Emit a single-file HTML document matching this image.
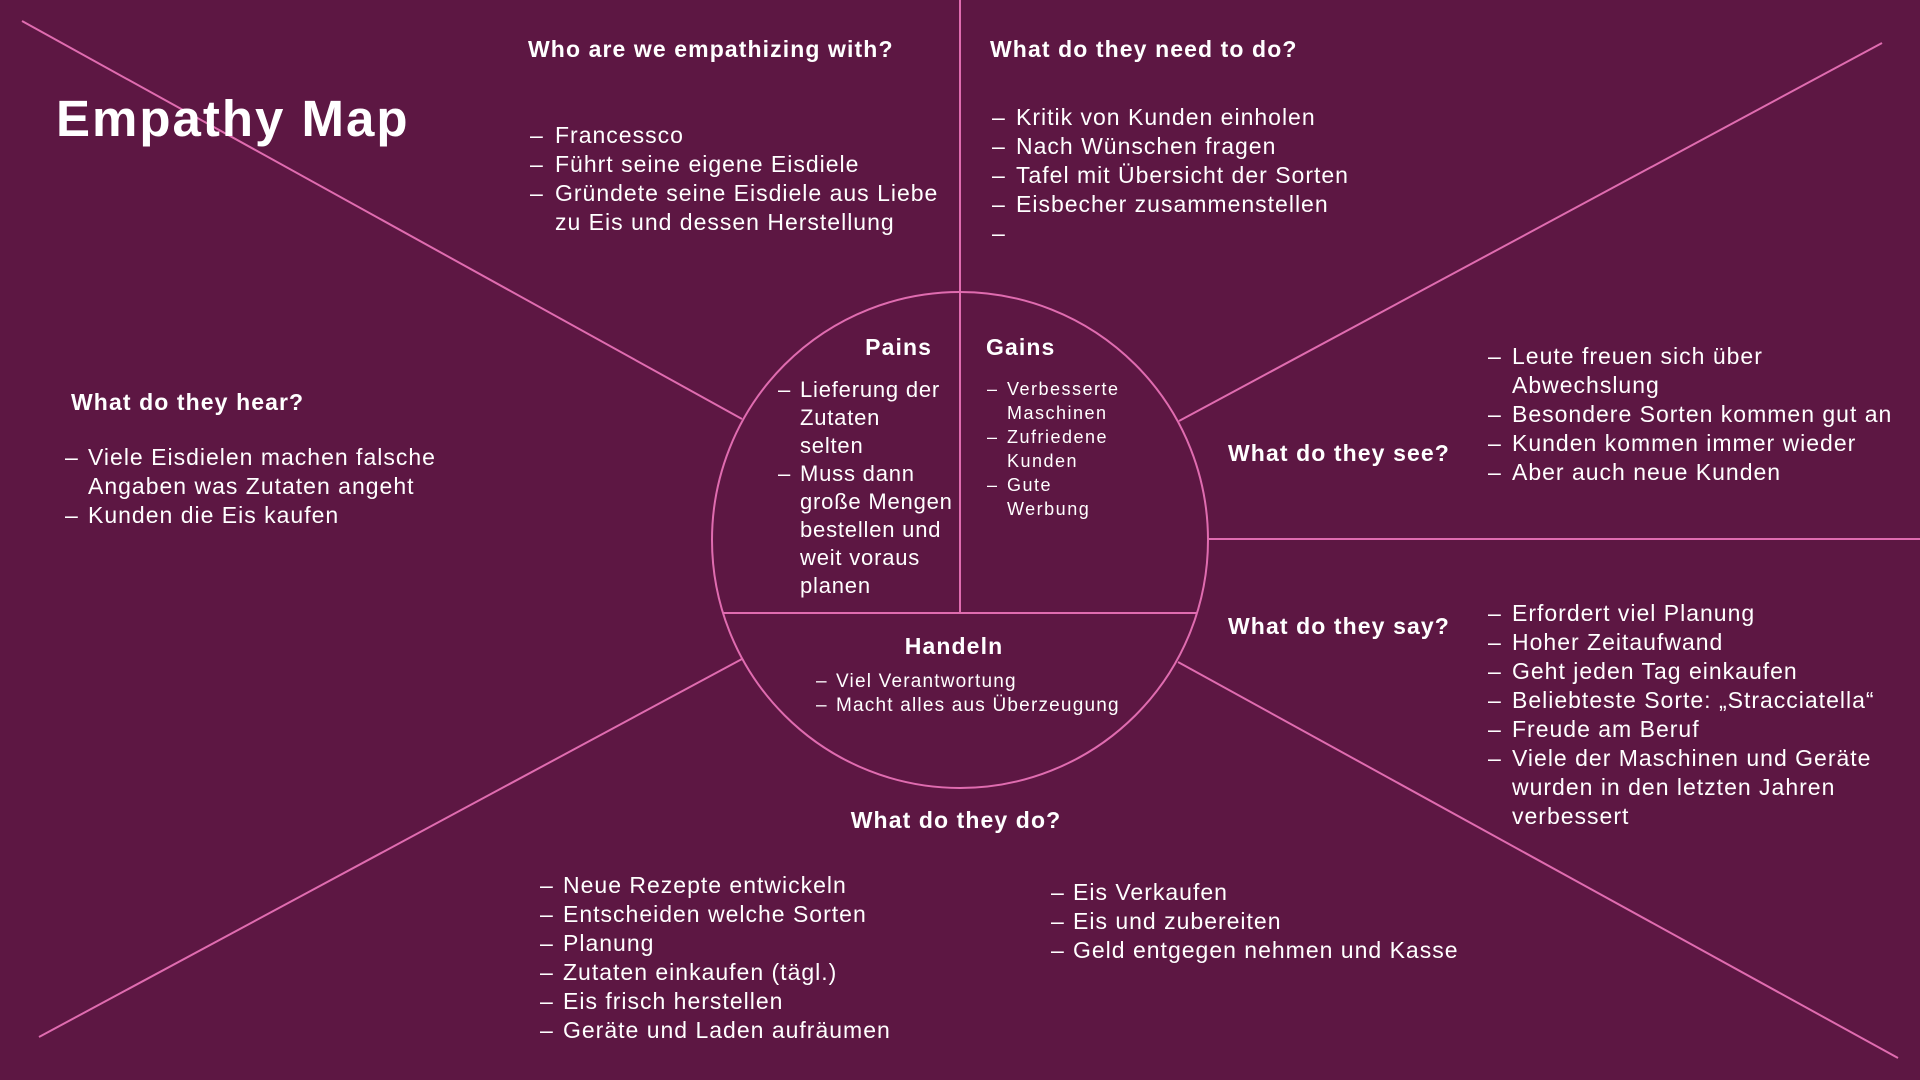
<!DOCTYPE html>
<html><head><meta charset="utf-8">
<style>
html,body{margin:0;padding:0}
body{width:1920px;height:1080px;background:#5d1743;position:relative;overflow:hidden;font-family:"Liberation Sans",sans-serif;color:#fff}
svg{position:absolute;left:0;top:0}
.h{position:absolute;font-weight:bold;font-size:23px;line-height:30px;white-space:nowrap;letter-spacing:1.1px}
.l{position:absolute;white-space:nowrap;letter-spacing:1px}
.l div{position:relative}
.l div span{position:absolute}
</style></head><body>
<svg width="1920" height="1080">
<g stroke="#e06cb0" stroke-width="2" fill="none">
<circle cx="960" cy="540" r="248"/>
<line x1="960" y1="0" x2="960" y2="613"/>
<line x1="723" y1="613" x2="1197" y2="613"/>
<line x1="22" y1="21" x2="742" y2="419"/>
<line x1="1882" y1="43" x2="1179" y2="421"/>
<line x1="1208" y1="539" x2="1920" y2="539"/>
<line x1="1178" y1="662" x2="1898" y2="1058"/>
<line x1="742" y1="659" x2="39" y2="1037"/>
</g></svg>

<div class="h" style="left:56px;top:88px;font-size:51px;line-height:62px;letter-spacing:2px">Empathy Map</div>

<div class="h" style="left:528px;top:34px">Who are we empathizing with?</div>
<div class="l" style="left:555px;top:121px;font-size:23px;line-height:29px">
<div><span style="left:-25px">–</span>Francessco</div>
<div><span style="left:-25px">–</span>Führt seine eigene Eisdiele</div>
<div><span style="left:-25px">–</span>Gründete seine Eisdiele aus Liebe</div>
<div>zu Eis und dessen Herstellung</div>
</div>

<div class="h" style="left:990px;top:34px">What do they need to do?</div>
<div class="l" style="left:1016px;top:103px;font-size:23px;line-height:29px">
<div><span style="left:-24px">–</span>Kritik von Kunden einholen</div>
<div><span style="left:-24px">–</span>Nach Wünschen fragen</div>
<div><span style="left:-24px">–</span>Tafel mit Übersicht der Sorten</div>
<div><span style="left:-24px">–</span>Eisbecher zusammenstellen</div>
<div><span style="left:-24px">–</span>&nbsp;</div>
</div>

<div class="h" style="left:71px;top:387px">What do they hear?</div>
<div class="l" style="left:88px;top:443px;font-size:23px;line-height:29px">
<div><span style="left:-23px">–</span>Viele Eisdielen machen falsche</div>
<div>Angaben was Zutaten angeht</div>
<div><span style="left:-23px">–</span>Kunden die Eis kaufen</div>
</div>

<div class="h" style="left:1228px;top:438px">What do they see?</div>
<div class="l" style="left:1512px;top:342px;font-size:23px;line-height:29px">
<div><span style="left:-24px">–</span>Leute freuen sich über</div>
<div>Abwechslung</div>
<div><span style="left:-24px">–</span>Besondere Sorten kommen gut an</div>
<div><span style="left:-24px">–</span>Kunden kommen immer wieder</div>
<div><span style="left:-24px">–</span>Aber auch neue Kunden</div>
</div>

<div class="h" style="left:1228px;top:611px">What do they say?</div>
<div class="l" style="left:1512px;top:599px;font-size:23px;line-height:29px">
<div><span style="left:-24px">–</span>Erfordert viel Planung</div>
<div><span style="left:-24px">–</span>Hoher Zeitaufwand</div>
<div><span style="left:-24px">–</span>Geht jeden Tag einkaufen</div>
<div><span style="left:-24px">–</span>Beliebteste Sorte: „Stracciatella“</div>
<div><span style="left:-24px">–</span>Freude am Beruf</div>
<div><span style="left:-24px">–</span>Viele der Maschinen und Geräte</div>
<div>wurden in den letzten Jahren</div>
<div>verbessert</div>
</div>

<div class="h" style="left:756px;width:400px;text-align:center;top:805px">What do they do?</div>
<div class="l" style="left:563px;top:871px;font-size:23px;line-height:29px">
<div><span style="left:-23px">–</span>Neue Rezepte entwickeln</div>
<div><span style="left:-23px">–</span>Entscheiden welche Sorten</div>
<div><span style="left:-23px">–</span>Planung</div>
<div><span style="left:-23px">–</span>Zutaten einkaufen (tägl.)</div>
<div><span style="left:-23px">–</span>Eis frisch herstellen</div>
<div><span style="left:-23px">–</span>Geräte und Laden aufräumen</div>
</div>
<div class="l" style="left:1073px;top:878px;font-size:23px;line-height:29px">
<div><span style="left:-22px">–</span>Eis Verkaufen</div>
<div><span style="left:-22px">–</span>Eis und zubereiten</div>
<div><span style="left:-22px">–</span>Geld entgegen nehmen und Kasse</div>
</div>

<div class="h" style="left:732px;width:200px;text-align:right;top:332px;font-size:23px">Pains</div>
<div class="h" style="left:986px;top:332px;font-size:23px">Gains</div>
<div class="l" style="left:800px;top:376px;font-size:22px;line-height:28px;letter-spacing:0.8px">
<div><span style="left:-22px">–</span>Lieferung der</div>
<div>Zutaten</div>
<div>selten</div>
<div><span style="left:-22px">–</span>Muss dann</div>
<div>große Mengen</div>
<div>bestellen und</div>
<div>weit voraus</div>
<div>planen</div>
</div>
<div class="l" style="left:1007px;top:377px;font-size:18px;line-height:24px;letter-spacing:1.5px">
<div><span style="left:-20px">–</span>Verbesserte</div>
<div>Maschinen</div>
<div><span style="left:-20px">–</span>Zufriedene</div>
<div>Kunden</div>
<div><span style="left:-20px">–</span>Gute</div>
<div>Werbung</div>
</div>

<div class="h" style="left:854px;width:200px;text-align:center;top:631px;font-size:23px">Handeln</div>
<div class="l" style="left:836px;top:670px;font-size:19px;line-height:24px;letter-spacing:1.2px">
<div><span style="left:-20px">–</span>Viel Verantwortung</div>
<div><span style="left:-20px">–</span>Macht alles aus Überzeugung</div>
</div>
</body></html>
